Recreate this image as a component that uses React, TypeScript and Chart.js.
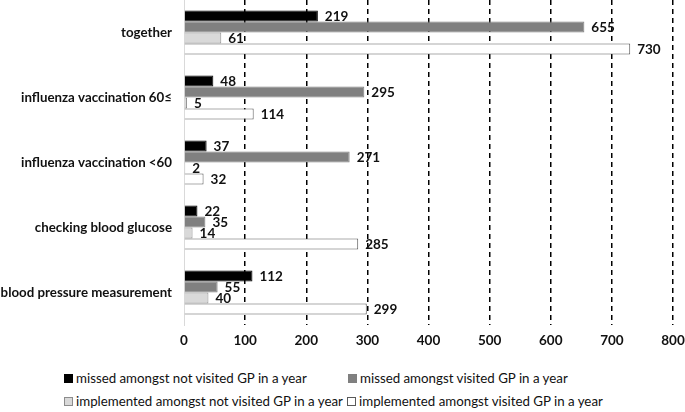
import React, { useEffect, useRef } from "react";
import { Chart, registerables } from "chart.js";
Chart.register(...registerables);

const categories = [
  "together",
  "influenza vaccination 60≤",
  "influenza vaccination <60",
  "checking blood glucose",
  "blood pressure measurement",
];
const missedNotVisited = [219, 48, 37, 22, 112];
const missedVisited = [655, 295, 271, 35, 55];
const implementedNotVisited = [61, 5, 2, 14, 40];
const implementedVisited = [730, 114, 32, 285, 299];
const seriesNames = [
  "missed amongst not visited GP in a year",
  "missed amongst visited GP in a year",
  "implemented amongst not visited GP in a year",
  "implemented amongst visited GP in a year",
];
const xMin = 0;
const xMax = 800;
const xStep = 100;

const FONT = "Lato";
const fills = ["#000000", "#808080", "#d9d9d9", "#ffffff"];
const borders = ["#000000", "#7f7f7f", "#8c8c8c", "#595959"];

const labelPlugin = {
  id: "valueLabels",
  afterDatasetsDraw(chart: any) {
    const ctx = chart.ctx;
    ctx.save();
    ctx.font = `bold 13.5px ${FONT}`;
    ctx.fillStyle = "#111";
    ctx.textAlign = "left";
    ctx.textBaseline = "middle";
    chart.data.datasets.forEach((ds: any, di: number) => {
      const meta = chart.getDatasetMeta(di);
      meta.data.forEach((el: any, i: number) => {
        ctx.fillText(String(ds.data[i]), el.x + 7, el.y + 1);
      });
    });
    ctx.restore();
  },
};

export default function App() {
  const ref = useRef<HTMLCanvasElement>(null);
  useEffect(() => {
    const series = [missedNotVisited, missedVisited, implementedNotVisited, implementedVisited];
    const chart = new Chart(ref.current!, {
      type: "bar",
      data: {
        labels: categories,
        datasets: series.map((d, i) => ({
          label: seriesNames[i],
          data: d,
          backgroundColor: fills[i],
          borderColor: borders[i],
          borderWidth: 1,
          barPercentage: 1,
          categoryPercentage: 0.68,
        })),
      },
      options: {
        indexAxis: "y",
        animation: false,
        responsive: false,
        maintainAspectRatio: false,
        layout: { padding: { left: 0, right: 12, top: 0, bottom: 0 } },
        plugins: { legend: { display: false }, tooltip: { enabled: false } },
        scales: {
          x: {
            min: xMin,
            max: xMax,
            ticks: {
              stepSize: xStep,
              padding: 8,
              color: "#111",
              font: { family: FONT, size: 13.5, weight: "bold" },
            },
            grid: {
              drawTicks: false,
              lineWidth: 1.5,
              color: (c: any) => (c.tick && c.tick.value === 0 ? "rgba(0,0,0,0)" : "#000"),
            },
            border: { display: false, dash: [5, 4] },
            afterFit: (s: any) => {
              s.height = 35;
              s.paddingLeft = 0;
              s.paddingRight = 0;
            },
          },
          y: {
            ticks: {
              padding: 12,
              color: "#111",
              font: { family: FONT, size: 13.3, weight: "bold" },
            },
            grid: { display: false, drawTicks: false },
            border: { display: true, color: "#d9d9d9", width: 1 },
            afterFit: (s: any) => {
              s.width = 184;
              s.paddingTop = 0;
              s.paddingBottom = 0;
            },
          },
        },
      },
      plugins: [labelPlugin],
    } as any);
    return () => chart.destroy();
  }, []);

  const legendRows = [
    [
      { i: 0, x: 64 },
      { i: 1, x: 348 },
    ],
    [
      { i: 2, x: 64 },
      { i: 3, x: 347 },
    ],
  ];
  const rowY = [378, 401];

  return (
    <div style={{ position: "fixed", left: 0, top: 0, width: 685, height: 412, background: "#fff" }}>
      <canvas ref={ref} width={685} height={360} style={{ position: "absolute", left: 0, top: 0 }} />
      {legendRows.map((row, r) =>
        row.map((it) => (
          <div
            key={it.i}
            style={{
              position: "absolute",
              left: it.x,
              top: rowY[r] - 9,
              height: 18,
              display: "flex",
              alignItems: "center",
              fontFamily: FONT,
              fontSize: 13.3,
              color: "#111",
              whiteSpace: "nowrap",
            }}
          >
            <span
              style={{
                display: "inline-block",
                width: 7,
                height: 7,
                background: fills[it.i],
                border: `1px solid ${borders[it.i]}`,
                marginRight: 3,
              }}
            />
            <span>{seriesNames[it.i]}</span>
          </div>
        ))
      )}
    </div>
  );
}
